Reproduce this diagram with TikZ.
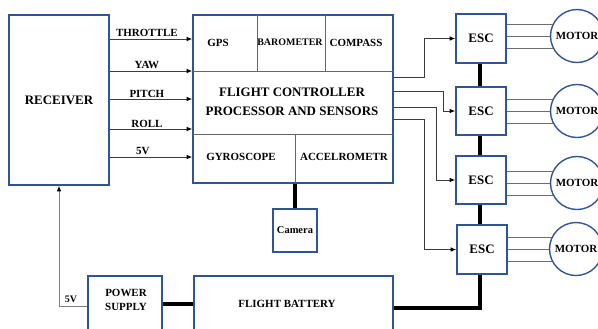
\documentclass[tikz,border=0pt]{standalone}
\usepackage{fontspec}
\setmainfont{Liberation Serif}
\usetikzlibrary{arrows.meta}
\definecolor{boxblue}{RGB}{47,85,151}
\definecolor{wire}{RGB}{60,60,60}
\definecolor{mwire}{RGB}{110,110,110}
\tikzset{
  blk/.style={draw=boxblue, line width=1.6pt, fill=white, inner sep=0pt},
  lbl/.style={font=\bfseries\fontsize{11}{12}\selectfont, inner sep=0pt},
  big/.style={font=\bfseries\fontsize{13}{15}\selectfont, inner sep=0pt, align=center},
  sig/.style={draw=wire, line width=0.8pt, -{Latex[length=5.5pt,width=4.5pt,color=black]}},
  thick bus/.style={line width=4.5pt, black},
  mline/.style={draw=mwire, line width=0.8pt},
  divider/.style={draw=gray!80!black, line width=0.8pt},
  motorc/.style={circle, draw=boxblue, line width=1.4pt, minimum size=53bp, inner sep=0pt, font=\bfseries\fontsize{11}{12}\selectfont}
}
\begin{document}
\begin{tikzpicture}[x=1bp, y=-1bp]
\useasboundingbox (0,0) rectangle (598,328);
\clip (0,0) rectangle (598,328);

\coordinate (busturn) at (480,308);

% Receiver
\node[blk, minimum width=100bp, minimum height=170bp, big] (rx) at (59,100) {RECEIVER};

% Flight controller
\node[blk, minimum width=200bp, minimum height=168bp] (fc) at (293,99) {};
\draw[divider] (193,71) -- (393,71);
\draw[divider] (193,134) -- (393,134);
\draw[divider] (257,15) -- (257,71);
\draw[divider] (325,15) -- (325,71);
\draw[divider] (295,134) -- (295,183);
\node[lbl] (gps) at (218,43) {GPS};
\node[lbl, font=\bfseries\fontsize{10}{12}\selectfont] (baro) at (290,42) {BAROMETER};
\node[lbl] (comp) at (356,43) {COMPASS};
\node[big, align=center, font=\bfseries\fontsize{13}{19}\selectfont] (fctext) at (292,102) {FLIGHT CONTROLLER\\PROCESSOR AND SENSORS};
\node[lbl] (gyro) at (241,157) {GYROSCOPE};
\node[lbl] (acc) at (344,157) {ACCELROMETR};

% Camera
\node[blk, minimum width=44bp, minimum height=43bp, font=\bfseries\fontsize{10.5}{12}\selectfont] (cam) at (295,230.5) {Camera};

% Power supply and battery
\node[blk, minimum width=74bp, minimum height=70bp] (ps) at (125,311) {};
\node[lbl, align=center, font=\bfseries\fontsize{11}{14}\selectfont] (pstext) at (126,300) {POWER\\SUPPLY};
\node[blk, minimum width=199bp, minimum height=70bp] (bat) at (293.5,311) {};
\node[lbl] (battext) at (287,304) {FLIGHT BATTERY};

% ESCs
\node[blk, minimum width=50bp, minimum height=49bp, big] (esc1) at (481,38.5) {ESC};
\node[blk, minimum width=50bp, minimum height=48bp, big] (esc2) at (481,111) {ESC};
\node[blk, minimum width=50bp, minimum height=48bp, big] (esc3) at (481,180) {ESC};
\node[blk, minimum width=50bp, minimum height=49bp, big] (esc4) at (482,249.5) {ESC};

% Motors
\node[motorc] (m1) at (577,36) {MOTOR};
\node[motorc] (m2) at (577,111) {MOTOR};
\node[motorc] (m3) at (577,183) {MOTOR};
\node[motorc] (m4) at (576,249) {MOTOR};

% thick buses
\draw[thick bus] (fc.south -| cam) -- (cam.north);
\draw[thick bus] (ps.east |- 0,304) -- (bat.west |- 0,304);
\draw[thick bus] (bat.east |- busturn) -- (busturn) -- (esc4.south -| busturn);
\draw[thick bus] (esc1.south -| busturn) -- (esc2.north -| busturn);
\draw[thick bus] (esc2.south -| busturn) -- (esc3.north -| busturn);
\draw[thick bus] (esc3.south -| busturn) -- (esc4.north -| busturn);

% Receiver -> FC signals
\draw[sig] (rx.east |- 0,39) -- node[lbl, above=1.5bp, pos=0.45] (lthr) {THROTTLE} (fc.west |- 0,39);
\draw[sig] (rx.east |- 0,71) -- node[lbl, above=1.5bp, pos=0.45] (lyaw) {YAW} (fc.west |- 0,71);
\draw[sig] (rx.east |- 0,99) -- node[lbl, above=1.5bp, pos=0.45] (lpit) {PITCH} (fc.west |- 0,99);
\draw[sig] (rx.east |- 0,129) -- node[lbl, above=1.5bp, pos=0.45] (lrol) {ROLL} (fc.west |- 0,129);
\draw[sig] (rx.east |- 0,157) -- node[lbl, above=1.5bp, pos=0.4] (l5v) {5V} (fc.west |- 0,157);

% Power supply 5V -> receiver
\draw[sig, draw=gray] (ps.west |- 0,306) -- (59,306) -- (rx.south);
\node[lbl, font=\bfseries\fontsize{10}{12}\selectfont] (l5vps) at (71,299) {5V};

% FC -> ESCs
\draw[sig] (fc.east |- 0,77) -- (424,77) |- (esc1.west);
\draw[sig] (fc.east |- 0,91) -- (443,91) |- (esc2.west);
\draw[sig] (fc.east |- 0,107) -- (436,107) |- (esc3.west);
\draw[sig] (fc.east |- 0,119) -- (424,119) |- (esc4.west);

% ESC -> motor wires
\foreach \e/\m in {esc1/m1, esc2/m2, esc3/m3, esc4/m4}{
  \draw[mline] (\e.east |- \m.154) -- (\m.154);
  \draw[mline] (\e.east |- \m.180) -- (\m.180);
  \draw[mline] (\e.east |- \m.206) -- (\m.206);
}
\end{tikzpicture}
\end{document}
